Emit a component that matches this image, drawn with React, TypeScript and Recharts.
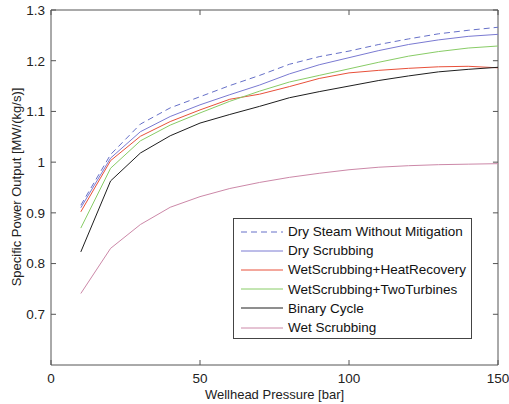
import { Label, Legend, Line, LineChart, ReferenceLine, XAxis, YAxis } from "recharts";

const pressure = [10, 20, 30, 40, 50, 60, 70, 80, 90, 100, 110, 120, 130, 140, 150];

const drySteamNoMitigation = [0.915, 1.015, 1.075, 1.107, 1.129, 1.151, 1.171, 1.193, 1.208, 1.219, 1.232, 1.243, 1.253, 1.260, 1.266];
const dryScrubbing = [0.91, 1.008, 1.06, 1.09, 1.113, 1.133, 1.152, 1.174, 1.192, 1.206, 1.22, 1.232, 1.241, 1.248, 1.252];
const wetHeatRecovery = [0.902, 1.003, 1.051, 1.08, 1.103, 1.124, 1.134, 1.149, 1.165, 1.176, 1.181, 1.185, 1.188, 1.189, 1.186];
const wetTwoTurbines = [0.87, 0.988, 1.042, 1.073, 1.097, 1.12, 1.14, 1.158, 1.171, 1.184, 1.197, 1.209, 1.218, 1.225, 1.229];
const binaryCycle = [0.823, 0.963, 1.018, 1.052, 1.077, 1.094, 1.11, 1.127, 1.139, 1.15, 1.161, 1.17, 1.178, 1.183, 1.187];
const wetScrubbing = [0.741, 0.83, 0.877, 0.911, 0.932, 0.948, 0.96, 0.97, 0.978, 0.985, 0.99, 0.993, 0.995, 0.996, 0.997];

const xTicks = [0, 50, 100, 150];
const yTicks = [0.7, 0.8, 0.9, 1, 1.1, 1.2, 1.3];
const xDomain = [0, 150];
const yDomain = [0.6, 1.3];

const series = [
  { key: "drySteam", name: "Dry Steam Without Mitigation", color: "#6670c8", dash: "6 4", values: drySteamNoMitigation },
  { key: "dry", name: "Dry Scrubbing", color: "#7a7ad2", dash: undefined, values: dryScrubbing },
  { key: "heat", name: "WetScrubbing+HeatRecovery", color: "#e8503a", dash: undefined, values: wetHeatRecovery },
  { key: "two", name: "WetScrubbing+TwoTurbines", color: "#88cc66", dash: undefined, values: wetTwoTurbines },
  { key: "binary", name: "Binary Cycle", color: "#1e1e1e", dash: undefined, values: binaryCycle },
  { key: "wet", name: "Wet Scrubbing", color: "#cc88a8", dash: undefined, values: wetScrubbing }
];

const data = pressure.map((p, i) => {
  const row: Record<string, number> = { pressure: p };
  series.forEach((s) => {
    row[s.key] = s.values[i];
  });
  return row;
});

const FONT = "'Liberation Sans', Arial, Helvetica, sans-serif";
const AXIS = "#555";
// inward tick length on the top / right edges, in data units (~5px)
const TOP_TICK = 0.0099;
const RIGHT_TICK = 1.7;

function BoxLegend() {
  return (
    <div
      style={{
        width: 239,
        height: 121,
        border: "1px solid #444",
        background: "#fff",
        boxSizing: "border-box",
        padding: "3px 0 0 6px",
        fontFamily: FONT,
        fontSize: 13.5,
        color: "#111"
      }}
    >
      {series.map((s) => (
        <div key={s.key} style={{ display: "flex", alignItems: "center", height: 19.2 }}>
          <svg width={44} height={10}>
            <line x1={1} x2={43} y1={5} y2={5} stroke={s.color} strokeWidth={1} strokeDasharray={s.dash} />
          </svg>
          <span style={{ marginLeft: 4, whiteSpace: "nowrap" }}>{s.name}</span>
        </div>
      ))}
    </div>
  );
}

export default function App() {
  const yMax = yDomain[1];
  const xMax = xDomain[1];
  return (
    <div style={{ position: "absolute", left: 0, top: 0, width: 509, height: 404, background: "#fff", fontFamily: FONT }}>
      <LineChart width={509} height={404} data={data} margin={{ top: 10, right: 11, bottom: 0, left: 0 }}>
        <XAxis
          type="number"
          dataKey="pressure"
          domain={xDomain}
          ticks={xTicks}
          height={39}
          stroke={AXIS}
          tickSize={-5}
          tickMargin={13}
          tick={{ fontSize: 13.5, fill: "#222", fontFamily: FONT }}
        >
          <Label value="Wellhead Pressure [bar]" position="insideBottom" offset={5} style={{ fontSize: 13, fill: "#222", fontFamily: FONT }} />
        </XAxis>
        <YAxis
          type="number"
          domain={yDomain}
          ticks={yTicks}
          width={51}
          stroke={AXIS}
          tickSize={-5}
          tickMargin={11}
          tickFormatter={(v: number) => String(Number(v.toFixed(1)))}
          tick={{ fontSize: 13.5, fill: "#222", fontFamily: FONT }}
        >
          <Label
            content={() => (
              <text
                x={16}
                y={187}
                transform="rotate(-90 16 187)"
                textAnchor="middle"
                dominantBaseline="central"
                style={{ fontSize: 13, fill: "#222", fontFamily: FONT }}
              >
                Specific Power Output [MW/(kg/s)]
              </text>
            )}
          />
        </YAxis>
        {/* box: top and right edges with inward ticks */}
        <ReferenceLine y={yMax} stroke={AXIS} ifOverflow="visible" />
        <ReferenceLine x={xMax} stroke={AXIS} ifOverflow="visible" />
        {xTicks.map((t) => (
          <ReferenceLine key={`tx${t}`} segment={[{ x: t, y: yMax }, { x: t, y: yMax - TOP_TICK }]} stroke={AXIS} ifOverflow="visible" />
        ))}
        {yTicks.map((t) => (
          <ReferenceLine key={`ty${t}`} segment={[{ x: xMax, y: t }, { x: xMax - RIGHT_TICK, y: t }]} stroke={AXIS} ifOverflow="visible" />
        ))}
        <Legend
          layout="vertical"
          align="center"
          verticalAlign="middle"
          content={() => <BoxLegend />}
          wrapperStyle={{ left: 233, top: 218, width: 239, height: 121 }}
        />
        {series.map((s) => (
          <Line
            key={s.key}
            type="linear"
            dataKey={s.key}
            name={s.name}
            stroke={s.color}
            strokeWidth={1}
            strokeDasharray={s.dash}
            dot={false}
            activeDot={false}
            isAnimationActive={false}
          />
        ))}
      </LineChart>
    </div>
  );
}
